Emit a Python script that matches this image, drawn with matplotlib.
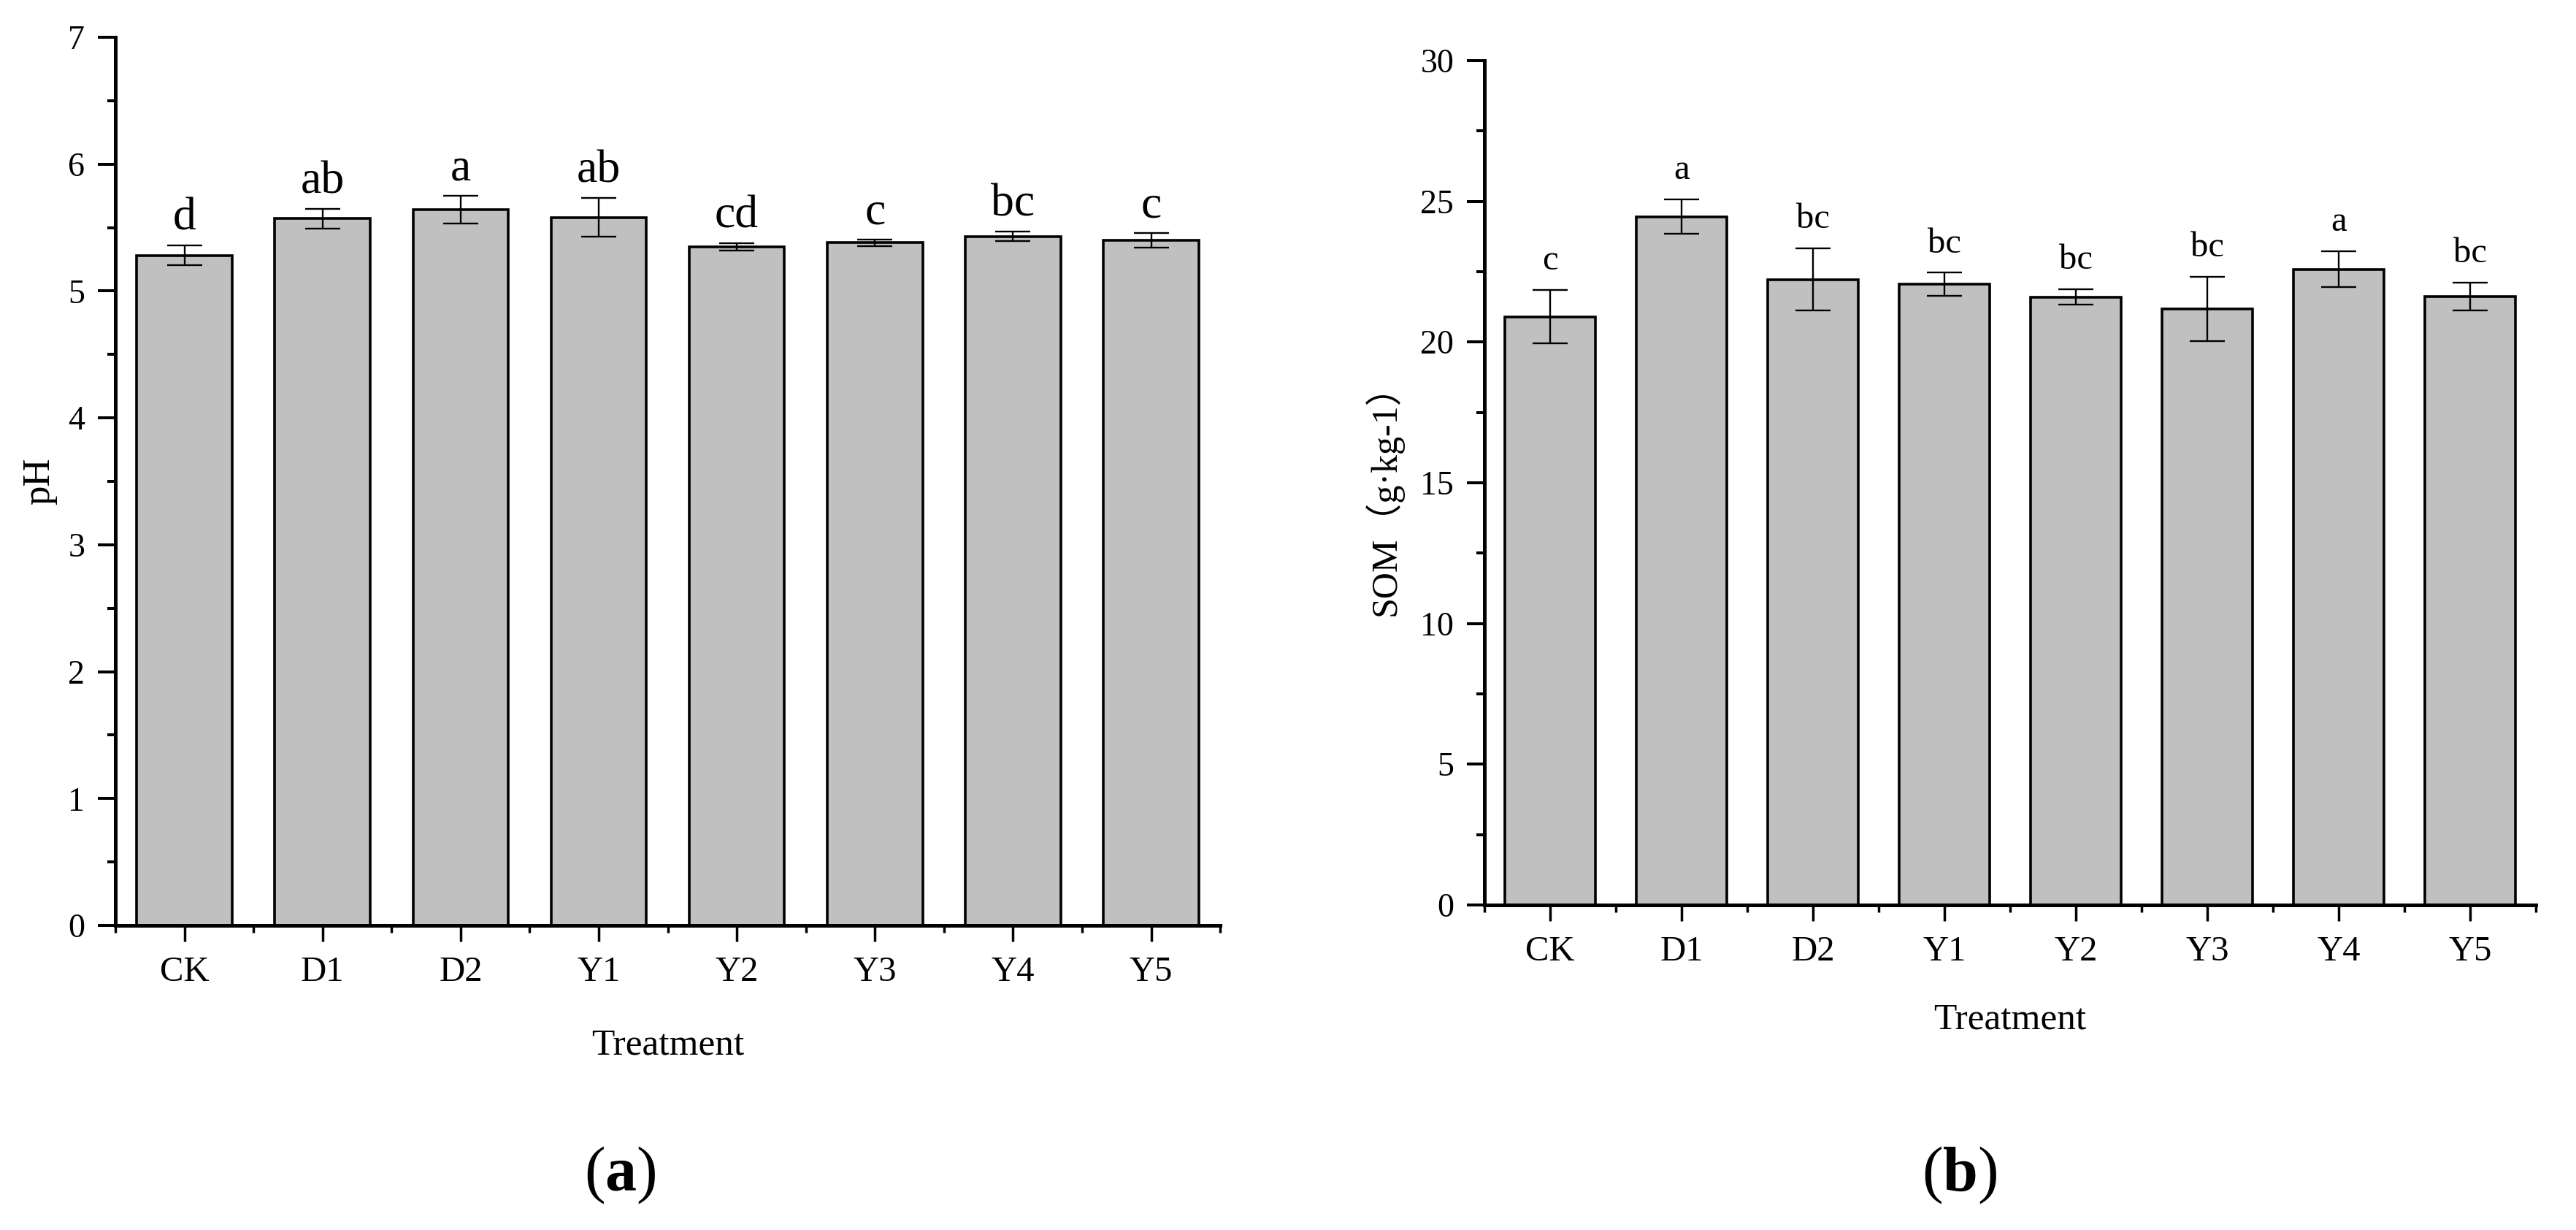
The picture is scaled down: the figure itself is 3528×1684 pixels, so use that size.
import matplotlib
matplotlib.use('Agg')
import matplotlib.pyplot as plt
from matplotlib.ticker import MultipleLocator, FixedLocator

plt.rcParams['font.family'] = ['Liberation Serif', 'Noto Sans CJK SC', 'DejaVu Sans']
plt.rcParams['mathtext.fontset'] = 'custom'
plt.rcParams['mathtext.rm'] = 'Liberation Serif'
plt.rcParams['mathtext.bf'] = 'Liberation Serif:bold'

treatments = ['CK', 'D1', 'D2', 'Y1', 'Y2', 'Y3', 'Y4', 'Y5']

ph_mean = [5.28, 5.57, 5.64, 5.58, 5.35, 5.38, 5.43, 5.40]
ph_err = [0.077, 0.078, 0.109, 0.154, 0.028, 0.024, 0.038, 0.055]
ph_letters = ['d', 'ab', 'a', 'ab', 'cd', 'c', 'bc', 'c']

som_mean = [20.90, 24.45, 22.22, 22.05, 21.60, 21.18, 22.58, 21.62]
som_err = [0.95, 0.61, 1.11, 0.41, 0.28, 1.14, 0.64, 0.50]
som_letters = ['c', 'a', 'bc', 'bc', 'bc', 'bc', 'a', 'bc']

fig = plt.figure(figsize=(35.28, 16.84), dpi=100)
ax1 = fig.add_axes([0.04478, 0.2476, 0.4289, 0.7221])
ax2 = fig.add_axes([0.5762, 0.2643, 0.4082, 0.6865])

x = list(range(len(treatments)))


def draw_panel(ax, means, errs, letters, ymax, major, letter_size, letter_off):
    ax.bar(x, means, width=0.69, color='#C0C0C0', edgecolor='black',
           linewidth=2.6, zorder=2)
    ax.errorbar(x, means, yerr=errs, fmt='none', ecolor='black',
                elinewidth=1.7, capsize=17, capthick=1.7, zorder=3)
    for xi, m, e, lab in zip(x, means, errs, letters):
        ax.annotate(lab, (xi, m + e), xytext=(0, letter_off),
                    textcoords='offset points', ha='center', va='baseline',
                    fontsize=letter_size)
    ax.set_xlim(-0.5, 7.5)
    ax.set_ylim(0, ymax)
    ax.yaxis.set_major_locator(MultipleLocator(major))
    ax.yaxis.set_minor_locator(MultipleLocator(major / 2))
    ax.xaxis.set_major_locator(FixedLocator(x))
    ax.xaxis.set_minor_locator(FixedLocator([i - 0.5 for i in range(9)]))
    ax.set_xticklabels(treatments)
    for s in ['top', 'right']:
        ax.spines[s].set_visible(False)
    for s in ['left', 'bottom']:
        ax.spines[s].set_linewidth(3.6)
    ax.tick_params(axis='y', which='major', direction='out', length=17, width=2.9,
                   labelsize=33, pad=13)
    ax.tick_params(axis='y', which='minor', direction='out', length=8, width=2.9)
    ax.tick_params(axis='x', which='major', direction='out', length=16, width=2.5,
                   labelsize=35, pad=14)
    ax.tick_params(axis='x', which='minor', direction='out', length=7, width=2.5)
    ax.set_xlabel('Treatment', fontsize=37)
    ax.xaxis.set_label_coords(0.5, -0.116)


draw_panel(ax1, ph_mean, ph_err, ph_letters, 7, 1, 46, 15.5)
draw_panel(ax2, som_mean, som_err, som_letters, 30, 5, 35, 20)

ax1.set_ylabel('pH', fontsize=38)
ax1.yaxis.set_label_coords(-0.0529, 0.5)
ax2.set_ylabel('SOM（g·kg-1）', fontsize=36)
ax2.yaxis.set_label_coords(-0.0771, 0.49)

fig.text(0.2406, 0.0445, r'($\mathbf{a}$)', ha='center', va='center', fontsize=62)
fig.text(0.7608, 0.0445, r'($\mathbf{b}$)', ha='center', va='center', fontsize=62)

fig.savefig('out.png', dpi=100, facecolor='white')
